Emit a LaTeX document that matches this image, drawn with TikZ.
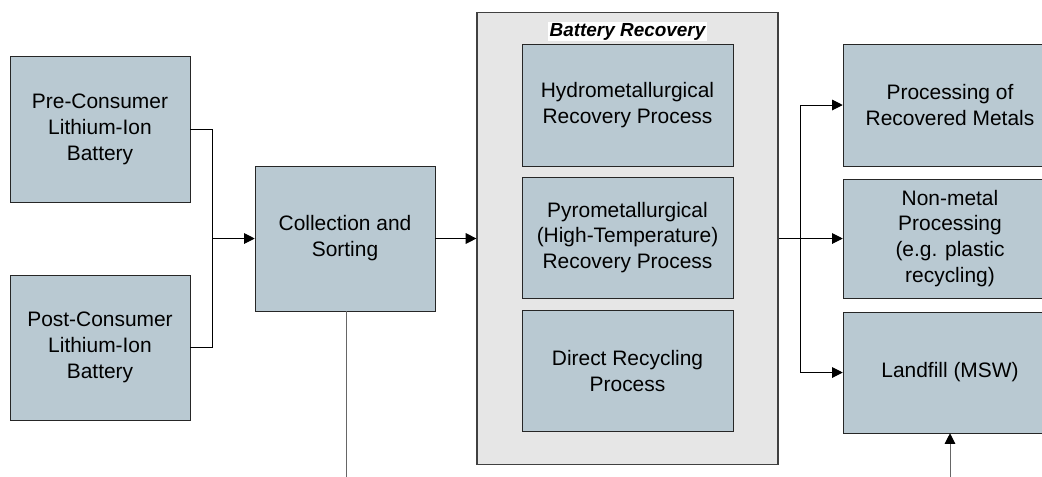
\documentclass[tikz,border=0pt]{standalone}
\usepackage{fontspec}
\setmainfont{Liberation Sans}
\usetikzlibrary{arrows.meta}

\definecolor{boxblue}{RGB}{185,201,210}
\definecolor{recovgray}{RGB}{230,230,230}

\tikzset{
    box/.style={draw=black!85, fill=boxblue, align=center, inner sep=0pt,
        font=\fontsize{15.7}{19.4}\selectfont},
    wire/.style={draw=black, line width=0.75pt},
    arr/.style={wire, -{Triangle[length=8pt,width=8pt]}},
}

\begin{document}
\begin{tikzpicture}[x=0.75pt, y=-0.75pt]
    \clip (0,0) rectangle (1042,476);
    \useasboundingbox (0,0) rectangle (1042,476);

    % sources
    \node[box, minimum width=135pt, minimum height=109.5pt] (pre) at (100,129.5) {Pre-Consumer\\Lithium-Ion\\Battery};
    \node[box, minimum width=135pt, minimum height=108.75pt] (post) at (100,347.5) {Post-Consumer\\Lithium-Ion\\Battery};
    \node[box, minimum width=135pt, minimum height=108.75pt] (collect) at (345,238.5) {Collection and\\Sorting};

    % recovery group
    \node[draw=black!75, line width=0.9pt, fill=recovgray, minimum width=225.75pt, minimum height=339pt] (recov) at (627.5,238.5) {};
    \node[fill=white, inner sep=1pt, font=\fontsize{14.2}{16}\selectfont\bfseries\itshape] (title) at (627.5,31.5) {Battery Recovery};
    \node[box, minimum width=158.25pt, minimum height=91.5pt] (hydro) at (627.5,105) {Hydrometallurgical\\Recovery Process};
    \node[box, minimum width=158.25pt, minimum height=90.75pt] (pyro) at (627.5,237.5) {Pyrometallurgical\\(High-Temperature)\\Recovery Process};
    \node[box, minimum width=158.25pt, minimum height=90.75pt] (direct) at (627.5,371) {Direct Recycling\\Process};

    % outputs
    \node[box, minimum width=160.5pt, minimum height=91.5pt] (metals) at (950,105) {Processing of\\Recovered Metals};
    \node[box, minimum width=160.5pt, minimum height=89.25pt] (nonmetal) at (950,238.5) {Non-metal\\Processing\\(e.g. plastic\\recycling)};
    \node[box, minimum width=160.5pt, minimum height=90.75pt] (landfill) at (950,372.5) {Landfill (MSW)};

    % connectors
    \coordinate (join) at (212,238.5);
    \coordinate (split) at (800,238.5);
    \coordinate (down) at (346,480);
    \coordinate (up) at (950,480);

    \draw[wire] (pre.east) -| (join);
    \draw[wire] (post.east) -| (join);
    \draw[arr] (join) -- (collect.west);
    \draw[arr] (collect.east) -- (recov.west);
    \draw[wire] (recov.east) -- (split);
    \draw[arr] (split) |- (metals.west);
    \draw[arr] (split) -- (nonmetal.west);
    \draw[arr] (split) |- (landfill.west);
    \draw[wire, draw=black!60] (collect.south -| down) -- (down);
    \draw[wire, draw=black!60, -{Triangle[length=8pt,width=8pt,color=black]}] (up) -- (landfill.south);

\end{tikzpicture}
\end{document}
